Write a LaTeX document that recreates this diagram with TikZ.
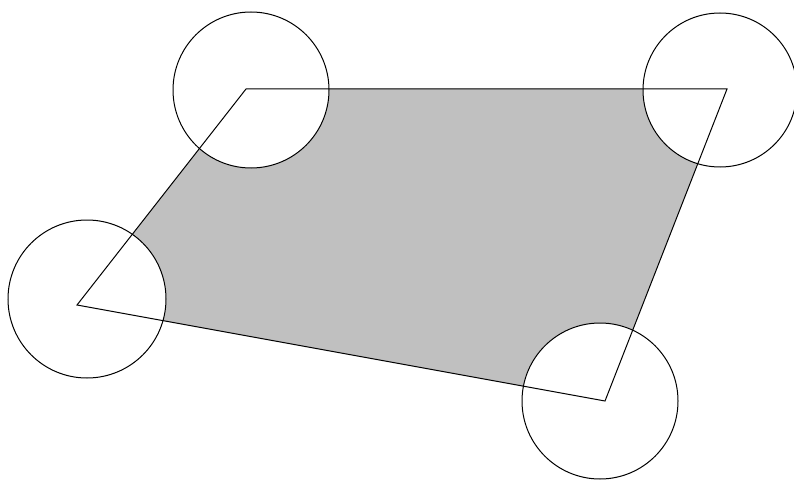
\documentclass[tikz,border=0pt]{standalone}
\begin{document}
\begin{tikzpicture}[x=1pt,y=-1pt,
  edge/.style={draw=black,line width=1pt,line join=miter},
  ring/.style={draw=black,line width=1pt,fill=white}]
\useasboundingbox (0,0) rectangle (794,481);
\coordinate (A) at (246,89);
\coordinate (B) at (727,89);
\coordinate (C) at (605,401);
\coordinate (D) at (77,305);
\fill[fill={rgb,255:red,192;green,192;blue,192}] (A) -- (B) -- (C) -- (D) -- cycle;
\fill[white] (251,90) circle (78);
\fill[white] (720,90) circle (77);
\fill[white] (87,299) circle (79);
\fill[white] (600,401) circle (78);
\draw[edge] (A) -- (B) -- (C) -- (D) -- cycle;
\draw[black,line width=1pt] (251,90) circle (78);
\draw[black,line width=1pt] (720,90) circle (77);
\draw[black,line width=1pt] (87,299) circle (79);
\draw[black,line width=1pt] (600,401) circle (78);
\end{tikzpicture}
\end{document}
